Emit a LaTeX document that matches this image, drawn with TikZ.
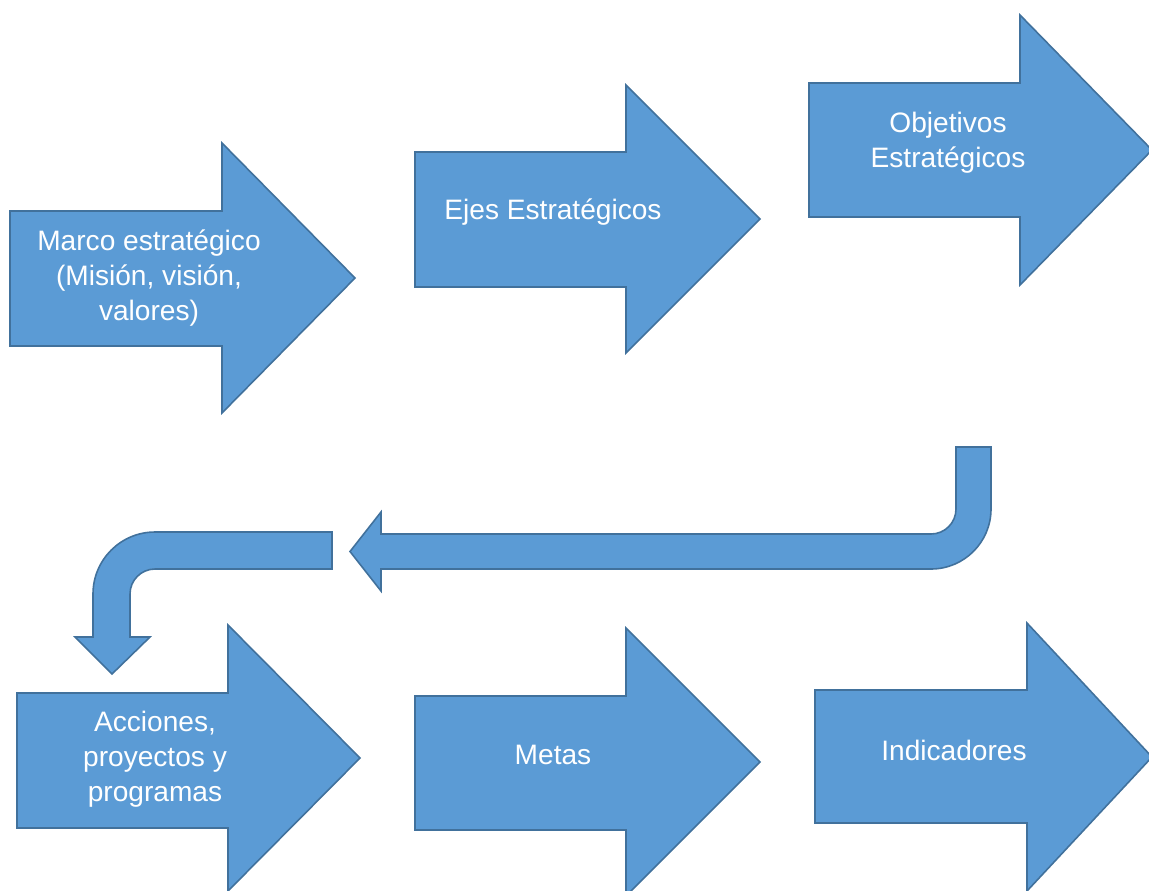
\documentclass[tikz,border=0pt]{standalone}
\usepackage{fontspec}
\setmainfont{Liberation Sans}
\definecolor{arrowfill}{HTML}{5B9BD5}
\definecolor{arrowline}{HTML}{41719C}
% left, top, bottom, head x, head top, head bottom, tip x
\newcommand{\blockarr}[7]{%
  \draw[blockfill] (#1,#2) -- (#4,#2) -- (#4,#5) -- (#7,{(#5+#6)/2}) -- (#4,#6) -- (#4,#3) -- (#1,#3) -- cycle;}
\begin{document}
\begin{tikzpicture}[x=0.02cm, y=-0.02cm,
    blockfill/.style = {fill=arrowfill, draw=arrowline, line width=0.9pt, line join=miter},
    label/.style = {text=white, align=center, inner sep=0pt, font=\fontsize{16}{20}\selectfont}]
    \useasboundingbox (0,0) rectangle (1149,890);
    \blockarr{10}{211}{346}{222}{143}{413}{355}
    \blockarr{415}{152}{287}{626}{85}{353}{760}
    \blockarr{809}{83}{217}{1020}{15}{285}{1152}
    \blockarr{17}{693}{828}{228}{625}{891}{360}
    \blockarr{415}{696}{830}{626}{628}{896}{760}
    \blockarr{815}{690}{823}{1027}{623}{891}{1152}
    \draw[blockfill] (991,447) -- (991,509) arc[start angle=0, end angle=90, radius=60]
        -- (381,569) -- (381,591) -- (350,551.5) -- (381,512) -- (381,534) -- (931,534)
        arc[start angle=90, end angle=0, radius=25] -- (956,447) -- cycle;
    \draw[blockfill] (332,532) -- (155,532) arc[start angle=270, end angle=180, radius=62]
        -- (93,637) -- (75,637) -- (112,674) -- (150,637) -- (130,637) -- (130,594)
        arc[start angle=180, end angle=270, radius=25] -- (332,569) -- cycle;
    \node[label] (marco) at (149,278) {Marco estratégico\\(Misión, visión,\\valores)};
    \node[label] (ejes) at (553,212) {Ejes Estratégicos};
    \node[label] (objetivos) at (948,143) {Objetivos\\Estratégicos};
    \node[label] (acciones) at (155,759) {Acciones,\\proyectos y\\programas};
    \node[label] (metas) at (553,755) {Metas};
    \node[label] (indicadores) at (954,750) {Indicadores};
\end{tikzpicture}
\end{document}
